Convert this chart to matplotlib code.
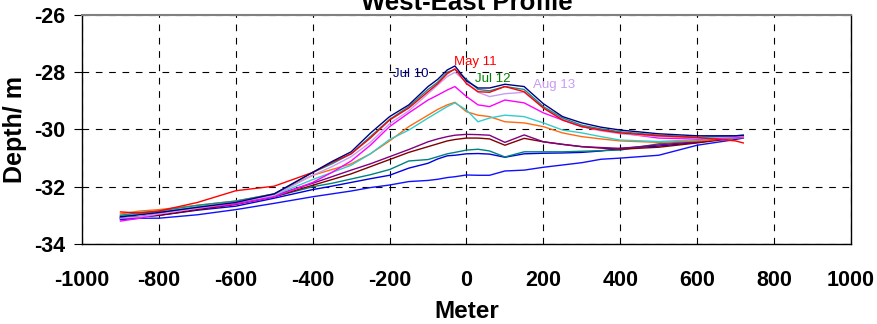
#!/usr/bin/env python3
"""
plot.py - West-East depth profile, several survey dates on one set of axes.

Output: out.png (877x324 px)
"""

import matplotlib
matplotlib.use('Agg')
import matplotlib.pyplot as plt

plt.rcParams['font.family'] = ['Liberation Sans', 'DejaVu Sans']
plt.rcParams['font.weight'] = 'bold'
plt.rcParams['axes.unicode_minus'] = False

# distance along profile (m), shared by every survey
DIST = [-900, -850, -800, -700, -600, -500, -400, -350, -300, -250,
        -200, -150, -100, -75, -50, -30, 0, 30, 60, 100,
        150, 200, 250, 300, 350, 400, 500, 600, 700, 720]

# depth (m), one list per survey line
blue_low = [-33.15, -33.10, -33.10, -32.98, -32.80, -32.58, -32.35, -32.25, -32.15, -32.03,
            -31.94, -31.82, -31.78, -31.74, -31.68, -31.65, -31.59, -31.60, -31.60, -31.45,
            -31.42, -31.32, -31.24, -31.16, -31.04, -31.00, -30.90, -30.55, -30.35, -30.30]
blue_up = [-33.10, -33.05, -33.00, -32.82, -32.68, -32.40, -32.10, -31.98, -31.85, -31.72,
           -31.60, -31.35, -31.18, -31.03, -30.92, -30.90, -30.85, -30.84, -30.86, -30.97,
           -30.85, -30.83, -30.82, -30.80, -30.75, -30.66, -30.58, -30.45, -30.28, -30.25]
teal_low = [-33.05, -32.95, -32.90, -32.75, -32.60, -32.35, -32.00, -31.88, -31.73, -31.58,
            -31.40, -31.10, -31.05, -30.95, -30.85, -30.80, -30.72, -30.69, -30.75, -30.96,
            -30.78, -30.78, -30.78, -30.76, -30.74, -30.72, -30.50, -30.40, -30.25, -30.22]
maroon = [-33.10, -33.05, -33.00, -32.80, -32.62, -32.35, -31.95, -31.75, -31.55, -31.30,
          -31.05, -30.80, -30.60, -30.50, -30.40, -30.35, -30.30, -30.30, -30.33, -30.55,
          -30.31, -30.43, -30.52, -30.60, -30.65, -30.69, -30.62, -30.47, -30.30, -30.27]
purple = [-33.10, -33.05, -32.95, -32.75, -32.60, -32.30, -31.88, -31.65, -31.42, -31.20,
          -30.95, -30.70, -30.43, -30.33, -30.25, -30.20, -30.17, -30.18, -30.20, -30.45,
          -30.19, -30.43, -30.52, -30.60, -30.63, -30.66, -30.54, -30.43, -30.25, -30.22]
orange = [-32.95, -32.85, -32.80, -32.65, -32.50, -32.25, -31.60, -31.40, -31.20, -30.85,
          -30.40, -29.90, -29.50, -29.30, -29.14, -29.05, -29.38, -29.50, -29.55, -29.73,
          -29.77, -29.90, -30.12, -30.25, -30.33, -30.40, -30.45, -30.40, -30.30, -30.28]
cyan = [-33.00, -32.95, -32.90, -32.70, -32.55, -32.30, -31.75, -31.50, -31.25, -30.85,
        -30.35, -30.02, -29.60, -29.40, -29.20, -29.07, -29.32, -29.73, -29.60, -29.50,
        -29.55, -29.77, -30.02, -30.12, -30.25, -30.37, -30.42, -30.36, -30.28, -30.25]
magenta = [-33.20, -33.10, -32.95, -32.75, -32.60, -32.35, -31.85, -31.50, -31.10, -30.55,
           -29.90, -29.42, -28.97, -28.80, -28.62, -28.50, -28.85, -29.14, -29.20, -28.97,
           -29.07, -29.42, -29.67, -29.90, -30.02, -30.12, -30.30, -30.33, -30.28, -30.25]
aug13 = [-33.10, -33.05, -32.95, -32.75, -32.55, -32.30, -31.60, -31.30, -30.95, -30.45,
         -29.80, -29.35, -28.75, -28.45, -28.15, -28.00, -28.35, -28.70, -28.85, -28.75,
         -28.70, -29.25, -29.65, -29.90, -30.05, -30.15, -30.25, -30.30, -30.25, -30.22]
jul12 = [-33.00, -32.90, -32.85, -32.65, -32.50, -32.25, -31.50, -31.20, -30.85, -30.25,
         -29.65, -29.20, -28.60, -28.35, -28.00, -27.90, -28.25, -28.60, -28.65, -28.50,
         -28.60, -29.20, -29.60, -29.85, -29.98, -30.08, -30.20, -30.27, -30.22, -30.20]
may11 = [-32.88, -32.92, -32.85, -32.55, -32.14, -31.98, -31.50, -31.15, -30.85, -30.30,
         -29.67, -29.25, -28.68, -28.40, -28.05, -27.88, -28.40, -28.68, -28.70, -28.50,
         -28.68, -29.25, -29.67, -29.90, -30.02, -30.12, -30.22, -30.28, -30.40, -30.47]
jul10 = [-33.05, -32.98, -32.90, -32.72, -32.55, -32.25, -31.50, -31.12, -30.78, -30.13,
         -29.55, -29.14, -28.50, -28.25, -27.92, -27.78, -28.30, -28.55, -28.55, -28.42,
         -28.50, -29.10, -29.55, -29.77, -29.92, -30.02, -30.15, -30.22, -30.22, -30.20]

# drawing order: bottom lines first so the top group sits above
SERIES = [
    (blue_low, '#1010FF'),
    (blue_up, '#0000E0'),
    (teal_low, '#008080'),
    (maroon, '#800000'),
    (purple, '#800080'),
    (orange, '#FF6A10'),
    (cyan, '#33CCCC'),
    (magenta, '#FF00FF'),
    (aug13, '#C89BF5'),
    (jul12, '#1A8C8C'),
    (may11, '#FF0000'),
    (jul10, '#000080'),
]

# date labels: (text, x, y, colour)
LABELS = [
    ("Jul 10", -192, -28.05, '#000080'),
    ("May 11", -32, -27.65, '#FF0000'),
    ("Jul 12", 22, -28.25, '#008000'),
    ("Aug 13", 172, -28.45, '#C89BF5'),
]

XTICKS = [-1000, -800, -600, -400, -200, 0, 200, 400, 600, 800, 1000]
YTICKS = [-34, -32, -30, -28, -26]


def main() -> None:
    fig = plt.figure(figsize=(8.77, 3.24), dpi=100)
    ax = fig.add_axes([0.0935, 0.247, 0.8768, 0.7067])

    for depth, colour in SERIES:
        ax.plot(DIST, depth, color=colour, linewidth=1.0)

    for text, x, y, colour in LABELS:
        ax.text(x, y, text, color=colour, fontsize=9.5, fontweight='normal',
                ha='left', va='center')

    ax.set_xlim(-1000, 1000)
    ax.set_ylim(-34, -26)
    ax.set_xticks(XTICKS)
    ax.set_yticks(YTICKS)
    ax.tick_params(axis='x', length=0, pad=19, labelsize=15.5)
    ax.tick_params(axis='y', direction='out', length=6, width=0.8, pad=6, labelsize=15.5)

    ax.grid(True, color='k', linewidth=0.8, linestyle=(0, (6, 6)))
    ax.set_axisbelow(True)

    for side in ('left', 'bottom', 'right'):
        ax.spines[side].set_color('k')
        ax.spines[side].set_linewidth(1.0)
    ax.spines['top'].set_color('#808080')
    ax.spines['top'].set_linewidth(1.5)

    ax.set_xlabel("Meter", fontsize=17.5, fontweight='bold', labelpad=6)
    ax.set_ylabel("Depth/ m", fontsize=18, fontweight='bold', labelpad=5)
    ax.set_title("West-East Profile", fontsize=18.5, fontweight='bold', pad=3.6)

    fig.savefig("out.png", dpi=100)
    plt.close(fig)


if __name__ == "__main__":
    main()
